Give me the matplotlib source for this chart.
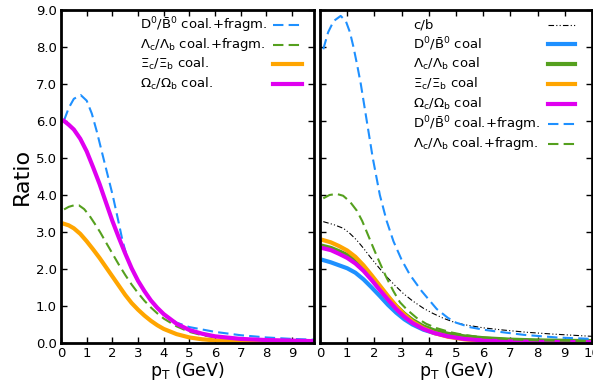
import matplotlib
matplotlib.use("Agg")
import matplotlib.pyplot as plt

plt.rcParams['font.family'] = ['DejaVu Sans']
plt.rcParams['mathtext.fontset'] = 'dejavusans'

# ---- left panel ----
l_d_x = [0.12, 0.3, 0.5, 0.77, 1.0, 1.2, 1.4, 1.65, 2.01, 2.2, 2.4, 2.6, 2.75, 3.0, 3.5, 4.0, 4.5, 5.0, 6.0, 7.0, 8.0, 9.0, 9.85]
l_d_y = [6.02, 6.35, 6.6, 6.7, 6.55, 6.2, 5.7, 5.0, 4.0, 3.4, 2.75, 2.25, 1.98, 1.66, 1.14, 0.77, 0.55, 0.43, 0.3, 0.21, 0.15, 0.11, 0.09]

l_lam_x = [0.12, 0.3, 0.5, 0.7, 0.9, 1.1, 1.3, 1.52, 1.75, 2.0, 2.25, 2.5, 2.75, 3.0, 3.25, 3.5, 3.75, 4.0, 4.5, 5.0, 5.5, 6.0, 7.0, 8.0, 9.85]
l_lam_y = [3.61, 3.68, 3.72, 3.72, 3.62, 3.45, 3.24, 3.0, 2.72, 2.42, 2.12, 1.84, 1.58, 1.35, 1.14, 0.96, 0.8, 0.66, 0.45, 0.3, 0.21, 0.15, 0.09, 0.06, 0.04]

l_xi_x = [0.12, 0.3, 0.5, 0.75, 1.0, 1.25, 1.5, 1.75, 2.0, 2.25, 2.5, 2.75, 3.0, 3.25, 3.5, 3.75, 4.0, 4.5, 5.0, 5.5, 6.0, 7.0, 8.0, 9.85]
l_xi_y = [3.22, 3.18, 3.1, 2.95, 2.75, 2.53, 2.3, 2.05, 1.8, 1.55, 1.3, 1.08, 0.9, 0.74, 0.6, 0.48, 0.38, 0.24, 0.15, 0.1, 0.07, 0.04, 0.03, 0.02]

l_om_x = [0.12, 0.3, 0.5, 0.75, 1.0, 1.25, 1.5, 1.75, 2.0, 2.25, 2.5, 2.75, 3.0, 3.25, 3.5, 3.75, 4.0, 4.5, 5.0, 5.5, 6.0, 7.0, 8.0, 9.85]
l_om_y = [6.0, 5.9, 5.77, 5.52, 5.18, 4.75, 4.3, 3.8, 3.3, 2.85, 2.42, 2.02, 1.68, 1.4, 1.15, 0.95, 0.78, 0.52, 0.35, 0.25, 0.18, 0.11, 0.08, 0.05]

# ---- right panel ----
r_cb_x = [0.12, 0.5, 0.86, 1.1, 1.35, 1.6, 1.84, 2.15, 2.45, 2.75, 3.06, 3.4, 3.8, 4.15, 4.53, 4.9, 5.27, 6.0, 6.74, 7.6, 8.58, 10.0]
r_cb_y = [3.28, 3.2, 3.1, 2.96, 2.78, 2.56, 2.33, 2.05, 1.79, 1.56, 1.34, 1.14, 0.94, 0.8, 0.67, 0.57, 0.5, 0.41, 0.35, 0.29, 0.24, 0.18]

solid_x = [0.12, 0.4, 0.7, 1.0, 1.3, 1.6, 1.9, 2.2, 2.5, 2.8, 3.1, 3.4, 3.8, 4.2, 4.7, 5.3, 6.0, 7.0, 8.0, 10.0]
r_d_coal = [2.24, 2.18, 2.1, 2.02, 1.9, 1.72, 1.5, 1.27, 1.03, 0.82, 0.64, 0.5, 0.36, 0.27, 0.19, 0.14, 0.1, 0.07, 0.05, 0.03]
r_lam_coal = [2.62, 2.57, 2.48, 2.38, 2.23, 2.02, 1.77, 1.5, 1.24, 1.0, 0.79, 0.62, 0.45, 0.34, 0.25, 0.18, 0.13, 0.09, 0.07, 0.05]
r_xi_coal = [2.78, 2.72, 2.62, 2.5, 2.33, 2.1, 1.83, 1.55, 1.27, 1.0, 0.77, 0.58, 0.4, 0.27, 0.17, 0.1, 0.06, 0.03, 0.02, 0.01]
r_om_coal = [2.56, 2.51, 2.41, 2.3, 2.15, 1.95, 1.7, 1.43, 1.17, 0.92, 0.71, 0.54, 0.38, 0.27, 0.18, 0.11, 0.07, 0.04, 0.03, 0.02]

r_d_x = [0.12, 0.3, 0.5, 0.76, 0.95, 1.1, 1.23, 1.37, 1.5, 1.72, 1.94, 2.2, 2.45, 2.7, 3.0, 3.3, 3.74, 4.29, 4.7, 5.0, 5.5, 6.0, 6.5, 7.5, 8.7, 10.0]
r_d_y = [7.94, 8.4, 8.7, 8.84, 8.7, 8.4, 8.0, 7.5, 7.0, 6.0, 5.0, 4.0, 3.3, 2.75, 2.25, 1.85, 1.4, 0.92, 0.68, 0.55, 0.43, 0.36, 0.31, 0.22, 0.15, 0.11]

r_lam_x = [0.12, 0.35, 0.61, 0.85, 1.1, 1.35, 1.55, 1.72, 1.9, 2.1, 2.3, 2.45, 2.7, 2.94, 3.2, 3.55, 3.9, 4.29, 4.8, 5.27, 6.0, 7.0, 8.0, 10.0]
r_lam_y = [3.91, 4.0, 4.03, 3.98, 3.82, 3.58, 3.3, 3.0, 2.68, 2.33, 2.0, 1.76, 1.4, 1.1, 0.9, 0.68, 0.52, 0.4, 0.29, 0.22, 0.15, 0.1, 0.07, 0.05]

blue = '#1e90ff'
green = '#55a01e'
orange = '#ffa500'
magenta = '#e000f0'

dash = (0, (5, 2.5))
dashdot = (0, (5, 2, 1, 2, 1, 2))

fig = plt.figure(figsize=(5.93, 3.89), dpi=100)
ax1 = fig.add_axes([61/593, 46/389, 253/593, 333/389])
ax2 = fig.add_axes([320/593, 46/389, 272/593, 333/389])

ax1.plot(l_d_x, l_d_y, color=blue, lw=1.5, ls=dash)
ax1.plot(l_lam_x, l_lam_y, color=green, lw=1.5, ls=dash)
ax1.plot(l_xi_x, l_xi_y, color=orange, lw=3)
ax1.plot(l_om_x, l_om_y, color=magenta, lw=3)

ax2.plot(r_cb_x, r_cb_y, color='k', lw=0.8, ls=dashdot)
ax2.plot(solid_x, r_d_coal, color=blue, lw=3)
ax2.plot(solid_x, r_lam_coal, color=green, lw=3)
ax2.plot(solid_x, r_xi_coal, color=orange, lw=3)
ax2.plot(solid_x, r_om_coal, color=magenta, lw=3)
ax2.plot(r_d_x, r_d_y, color=blue, lw=1.5, ls=dash)
ax2.plot(r_lam_x, r_lam_y, color=green, lw=1.5, ls=dash)

d_frag = r'D$^0$/$\bar{\mathrm{B}}^0$ coal.+fragm.'
lam_frag = r'$\Lambda_\mathrm{c}$/$\Lambda_\mathrm{b}$ coal.+fragm.'

left_leg = [
    (d_frag, blue, 1.5, dash),
    (lam_frag, green, 1.5, dash),
    (r'$\Xi_\mathrm{c}$/$\Xi_\mathrm{b}$ coal.', orange, 3, '-'),
    (r'$\Omega_\mathrm{c}$/$\Omega_\mathrm{b}$ coal.', magenta, 3, '-'),
]
right_leg = [
    ('c/b', 'k', 0.8, dashdot),
    (r'D$^0$/$\bar{\mathrm{B}}^0$ coal', blue, 3, '-'),
    (r'$\Lambda_\mathrm{c}$/$\Lambda_\mathrm{b}$ coal', green, 3, '-'),
    (r'$\Xi_\mathrm{c}$/$\Xi_\mathrm{b}$ coal', orange, 3, '-'),
    (r'$\Omega_\mathrm{c}$/$\Omega_\mathrm{b}$ coal', magenta, 3, '-'),
    (d_frag, blue, 1.5, dash),
    (lam_frag, green, 1.5, dash),
]


def draw_legend(ax, entries, x_text, x0, x1, y_top, step):
    # gnuplot style key: text left aligned, sample on the right
    for i, (label, c, lw, ls) in enumerate(entries):
        y = y_top - i * step
        ax.text(x_text, y, label, transform=ax.transAxes, ha='left',
                va='center', fontsize=9.5)
        ax.plot([x0, x1], [y, y], transform=ax.transAxes, color=c, lw=lw,
                ls=ls, clip_on=False)


draw_legend(ax1, left_leg, (140-61)/253, (273-61)/253, (302-61)/253,
            (343-25)/333, 19.5/333)
draw_legend(ax2, right_leg, (413-320)/272, (548-320)/272, (575-320)/272,
            (343-24.5)/333, 19.9/333)

ax1.set_xlim(0, 9.85)
ax2.set_xlim(0, 10)
ax1.set_xticks(range(0, 10))
ax2.set_xticks(range(0, 11))
for ax in (ax1, ax2):
    ax.set_ylim(0, 9)
    ax.set_yticks([i * 1.0 for i in range(10)])
    ax.tick_params(direction='in', top=True, right=True, length=4.5,
                   width=1, labelsize=9.5, colors='k', pad=3)
    for s in ax.spines.values():
        s.set_linewidth(2)
    ax.set_xlabel(r'p$_\mathrm{T}$ (GeV)', fontsize=12.5, labelpad=0)
ax1.set_yticklabels(['%.1f' % v for v in ax1.get_yticks()])
ax2.set_yticklabels([])
ax1.set_ylabel('Ratio', fontsize=16, labelpad=3)

fig.savefig('out.png', dpi=100)
